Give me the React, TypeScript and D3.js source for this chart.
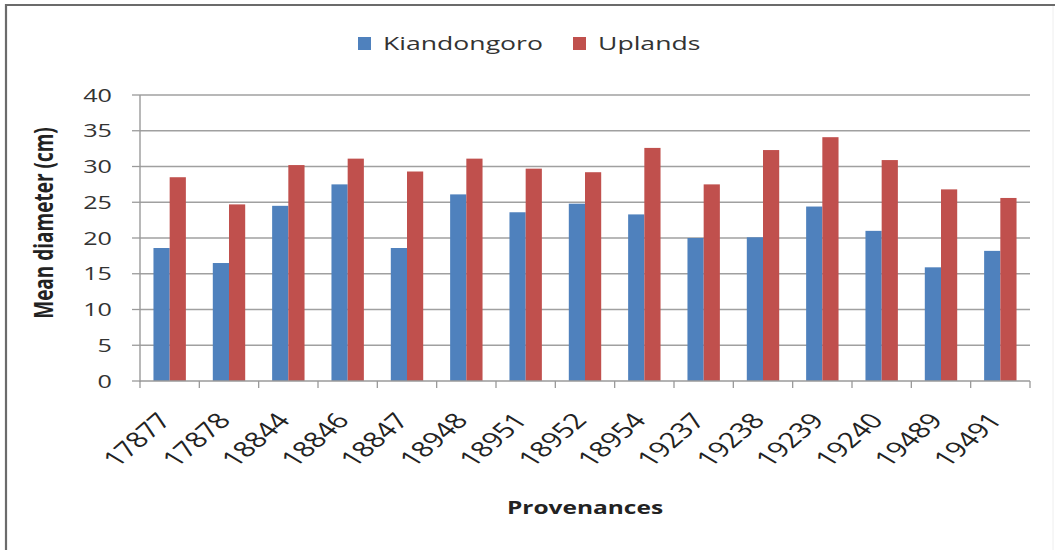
import React from "react";
import * as d3 from "d3";

const categories = ["17877","17878","18844","18846","18847","18948","18951","18952","18954","19237","19238","19239","19240","19489","19491"];
const kiandongoro = [18.6,16.5,24.5,27.5,18.6,26.1,23.6,24.8,23.3,20.0,20.1,24.4,21.0,15.9,18.2];
const uplands = [28.5,24.7,30.2,31.1,29.3,31.1,29.7,29.2,32.6,27.5,32.3,34.1,30.9,26.8,25.6];
const seriesNames = ["Kiandongoro","Uplands"];
const yTicks = [0,5,10,15,20,25,30,35,40];

const W = 1055, H = 550;
const left = 140, right = 1030, top = 95, bottom = 381;
const SX = 1.4;
const FONT = "'Open Sans', 'DejaVu Sans', sans-serif";
const BLUE = "#4F81BD", RED = "#C0504D";

export default function App() {
  const x = d3.scaleBand<string>().domain(categories).range([left, right]).paddingInner(0).paddingOuter(0);
  const y = d3.scaleLinear().domain([0, 40]).range([bottom, top]);
  const bw = x.bandwidth();
  const barW = 16.2;
  const gap = (bw - 2 * barW) / 2;
  const boundaries = d3.range(categories.length + 1).map(i => left + i * bw);

  return (
    <svg width={W} height={H} style={{ position: "absolute", left: 0, top: 0, background: "#fff" }}>
      <rect x={0} y={0} width={W} height={H} fill="#fff" />
      {/* frame */}
      <line x1={6} x2={6} y1={4} y2={H} stroke="#6b6b6b" strokeWidth={2.2} />
      <line x1={5} x2={W} y1={5} y2={5} stroke="#6b6b6b" strokeWidth={2.2} />
      <line x1={W - 2} x2={W - 2} y1={6} y2={H} stroke="#eeeeee" strokeWidth={1} />

      {/* gridlines */}
      {yTicks.filter(t => t > 0).map(t => (
        <line key={"g" + t} x1={left} x2={right} y1={y(t)} y2={y(t)} stroke="#a0a0a0" strokeWidth={1.4} />
      ))}
      {/* y ticks */}
      {yTicks.map(t => (
        <line key={"yt" + t} x1={left - 8} x2={left} y1={y(t)} y2={y(t)} stroke="#9a9a9a" strokeWidth={1.3} />
      ))}
      {/* y tick labels */}
      {yTicks.map(t => (
        <text key={"yl" + t} transform={`translate(${112},${y(t) + 6.5}) scale(${SX},1)`} textAnchor="end"
          fontFamily={FONT} fontSize={18} fill="#333">{t}</text>
      ))}

      {/* bars */}
      {categories.map((c, i) => {
        const x0 = (x(c) as number) + gap;
        return (
          <g key={c}>
            <rect x={x0} y={y(kiandongoro[i])} width={barW} height={bottom - y(kiandongoro[i])} fill={BLUE} />
            <rect x={x0 + barW} y={y(uplands[i])} width={barW} height={bottom - y(uplands[i])} fill={RED} />
          </g>
        );
      })}

      {/* axes */}
      <line x1={left} x2={left} y1={top} y2={bottom + 1} stroke="#9a9a9a" strokeWidth={1.4} />
      <line x1={left} x2={right} y1={bottom} y2={bottom} stroke="#9a9a9a" strokeWidth={1.4} />
      {boundaries.map((bx, i) => (
        <line key={"xt" + i} x1={bx} x2={bx} y1={bottom} y2={bottom + 7} stroke="#9a9a9a" strokeWidth={1.3} />
      ))}

      {/* x tick labels */}
      {categories.map(c => {
        const cx = (x(c) as number) + bw / 2 + 3;
        return (
          <text key={"xl" + c} transform={`translate(${cx},${421}) scale(${SX},1) rotate(-50)`} textAnchor="end"
            fontFamily={FONT} fontSize={21.5} fill="#222">{c}</text>
        );
      })}

      {/* axis titles */}
      <text transform={`translate(${53},${223}) scale(${SX},1) rotate(-90)`} textAnchor="middle"
        fontFamily={FONT} fontSize={19} fontWeight="bold" fill="#222">Mean diameter (cm)</text>
      <text transform={`translate(${585},${514}) scale(${SX},1)`} textAnchor="middle"
        fontFamily={FONT} fontSize={17.5} fontWeight="bold" fill="#222">Provenances</text>

      {/* legend */}
      <rect x={358} y={37} width={13} height={13} fill={BLUE} />
      <text transform={`translate(${383},${50}) scale(${SX},1)`} fontFamily={FONT} fontSize={19} fill="#333">{seriesNames[0]}</text>
      <rect x={573} y={37} width={13} height={13} fill={RED} />
      <text transform={`translate(${598},${50}) scale(${SX},1)`} fontFamily={FONT} fontSize={19} fill="#333">{seriesNames[1]}</text>
    </svg>
  );
}
